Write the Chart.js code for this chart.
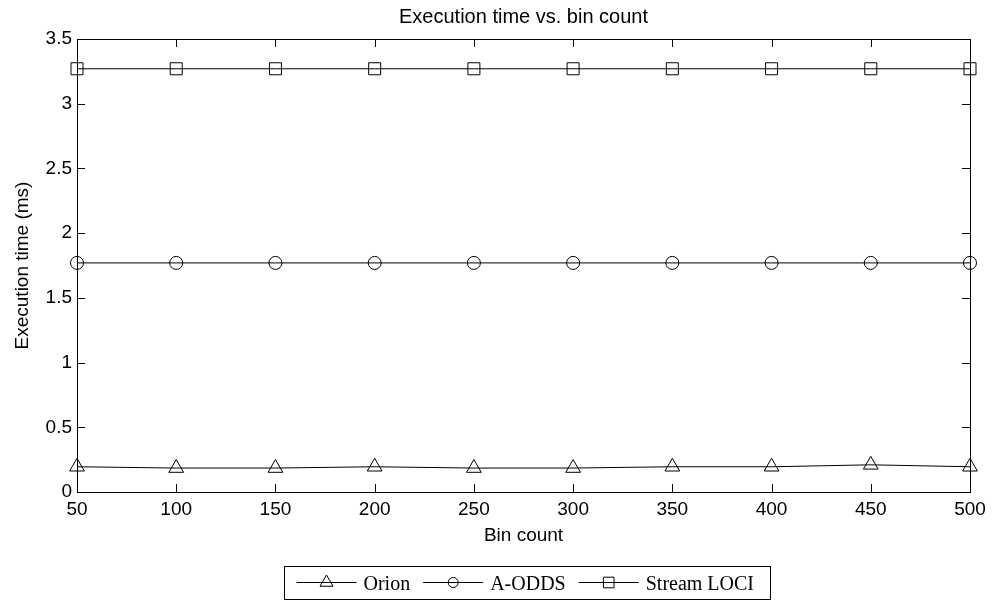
<!DOCTYPE html>
<html>
<head>
<meta charset="utf-8">
<title>Execution time vs. bin count</title>
<script src="https://cdn.jsdelivr.net/npm/chart.js@4.4.1/dist/chart.umd.min.js"></script>
<style>
    body { margin: 0; background: #fff; }
    #wrap { width: 993px; height: 601px; }
</style>
</head>
<body>
<div id="wrap"><canvas id="myChart" width="993" height="601"></canvas></div>
<script>
const ctx = document.getElementById('myChart').getContext('2d')

// values
const binCounts = [50, 100, 150, 200, 250, 300, 350, 400, 450, 500]
const orionTimes = [0.195, 0.185, 0.185, 0.195, 0.185, 0.185, 0.195, 0.195, 0.21, 0.195]
const aoddsTimes = [1.77, 1.77, 1.77, 1.77, 1.77, 1.77, 1.77, 1.77, 1.77, 1.77]
const streamLociTimes = [3.27, 3.27, 3.27, 3.27, 3.27, 3.27, 3.27, 3.27, 3.27, 3.27]

const seriesNames = ['Orion', 'A-ODDS', 'Stream LOCI']
const seriesMarkers = ['triangle', 'circle', 'rect']
const seriesValues = [orionTimes, aoddsTimes, streamLociTimes]
const markerRadius = [8.5, 6.5, 8.5]

const sansFont = '"Liberation Sans", Arial, sans-serif'
const serifFont = '"Liberation Serif", "Times New Roman", serif'

const datasets = seriesNames.map((name, i) => ({
    label: name,
    data: binCounts.map((b, j) => ({x: b, y: seriesValues[i][j]})),
    borderColor: '#000',
    borderWidth: 1,
    backgroundColor: 'rgba(0,0,0,0)',
    pointStyle: seriesMarkers[i],
    pointRadius: markerRadius[i],
    pointBorderColor: '#000',
    pointBackgroundColor: 'rgba(0,0,0,0)',
    pointBorderWidth: 1,
    tension: 0,
    clip: false,
}))

function drawMarker(c, style, cx, cy, r) {
    c.beginPath()
    if (style === 'triangle') {
        c.moveTo(cx, cy - r)
        c.lineTo(cx + r * 0.866, cy + r * 0.5)
        c.lineTo(cx - r * 0.866, cy + r * 0.5)
        c.closePath()
    } else if (style === 'circle') {
        c.arc(cx, cy, r, 0, Math.PI * 2)
    } else {
        const s = r * Math.SQRT1_2
        c.rect(cx - s, cy - s, 2 * s, 2 * s)
    }
    c.stroke()
}

// MATLAB style box with inward ticks on all four sides
const boxTicks = {
    id: 'boxTicks',
    afterDatasetsDraw(chart) {
        const c = chart.ctx
        const a = chart.chartArea
        const xs = chart.scales.x
        const ys = chart.scales.y
        c.save()
        c.strokeStyle = '#000'
        c.lineWidth = 1
        c.beginPath()
        xs.ticks.forEach(t => {
            const px = Math.round(xs.getPixelForValue(t.value)) + 0.5
            c.moveTo(px, a.bottom)
            c.lineTo(px, a.bottom - 8)
            c.moveTo(px, a.top)
            c.lineTo(px, a.top + 8)
        })
        ys.ticks.forEach(t => {
            const py = Math.round(ys.getPixelForValue(t.value)) + 0.5
            c.moveTo(a.left, py)
            c.lineTo(a.left + 8, py)
            c.moveTo(a.right, py)
            c.lineTo(a.right - 8, py)
        })
        c.stroke()
        c.strokeRect(Math.round(a.left) + 0.5, Math.round(a.top) + 0.5,
            Math.round(a.right - a.left), Math.round(a.bottom - a.top))
        c.restore()
    }
}

// legend drawn as line + marker + label inside a box under the axis title
const lineLegend = {
    id: 'lineLegend',
    afterDraw(chart) {
        const c = chart.ctx
        c.save()
        c.font = '20px ' + serifFont
        const widths = seriesNames.map(n => c.measureText(n).width)
        const itemW = widths.map(w => 60 + 7 + w)
        const boxW = 12 + itemW.reduce((s, w) => s + w, 0) + 13 * (seriesNames.length - 1) + 16
        const boxLeft = Math.round(527 - boxW / 2) + 0.5
        const boxTop = 566.5
        const lineY = 582.5
        c.strokeStyle = '#000'
        c.lineWidth = 1
        c.strokeRect(boxLeft, boxTop, Math.round(boxW), 33)
        let xPos = boxLeft + 12
        seriesNames.forEach((name, i) => {
            c.beginPath()
            c.moveTo(xPos, lineY)
            c.lineTo(xPos + 60, lineY)
            c.stroke()
            drawMarker(c, seriesMarkers[i], xPos + 30, lineY, i === 1 ? 5 : 7.5)
            c.fillStyle = '#000'
            c.textBaseline = 'middle'
            c.fillText(name, xPos + 67, lineY + 2)
            xPos += itemW[i] + 13
        })
        c.restore()
    }
}

const config = {
    type: 'line',
    data: { datasets },
    options: {
        responsive: false,
        animation: false,
        layout: {
            padding: { left: 0, right: 23, top: 0, bottom: 0 }
        },
        plugins: {
            legend: { display: false },
            tooltip: { enabled: false },
            title: {
                display: true,
                text: 'Execution time vs. bin count',
                color: '#000',
                fullSize: false,
                font: { family: sansFont, size: 20, weight: 'normal' },
                padding: { top: 5, bottom: 10 }
            }
        },
        scales: {
            x: {
                type: 'linear',
                min: 50,
                max: 500,
                afterFit: (scale) => { scale.height = 109 },
                ticks: {
                    stepSize: 50,
                    color: '#000',
                    padding: 6,
                    font: { family: sansFont, size: 19 }
                },
                grid: { display: false, drawTicks: false },
                border: { display: false },
                title: {
                    display: true,
                    text: 'Bin count',
                    color: '#000',
                    font: { family: sansFont, size: 19 },
                    padding: { top: 0, bottom: 54 }
                }
            },
            y: {
                min: 0,
                max: 3.5,
                afterFit: (scale) => { scale.width = 77 },
                ticks: {
                    stepSize: 0.5,
                    color: '#000',
                    padding: 5,
                    font: { family: sansFont, size: 19 },
                    callback: (value) => String(value)
                },
                grid: { display: false, drawTicks: false },
                border: { display: false },
                title: {
                    display: true,
                    text: 'Execution time (ms)',
                    color: '#000',
                    font: { family: sansFont, size: 19 },
                    padding: { top: 11, bottom: 0 }
                }
            }
        }
    },
    plugins: [boxTicks, lineLegend]
}

const myChart = new Chart(ctx, config)
</script>
</body>
</html>
